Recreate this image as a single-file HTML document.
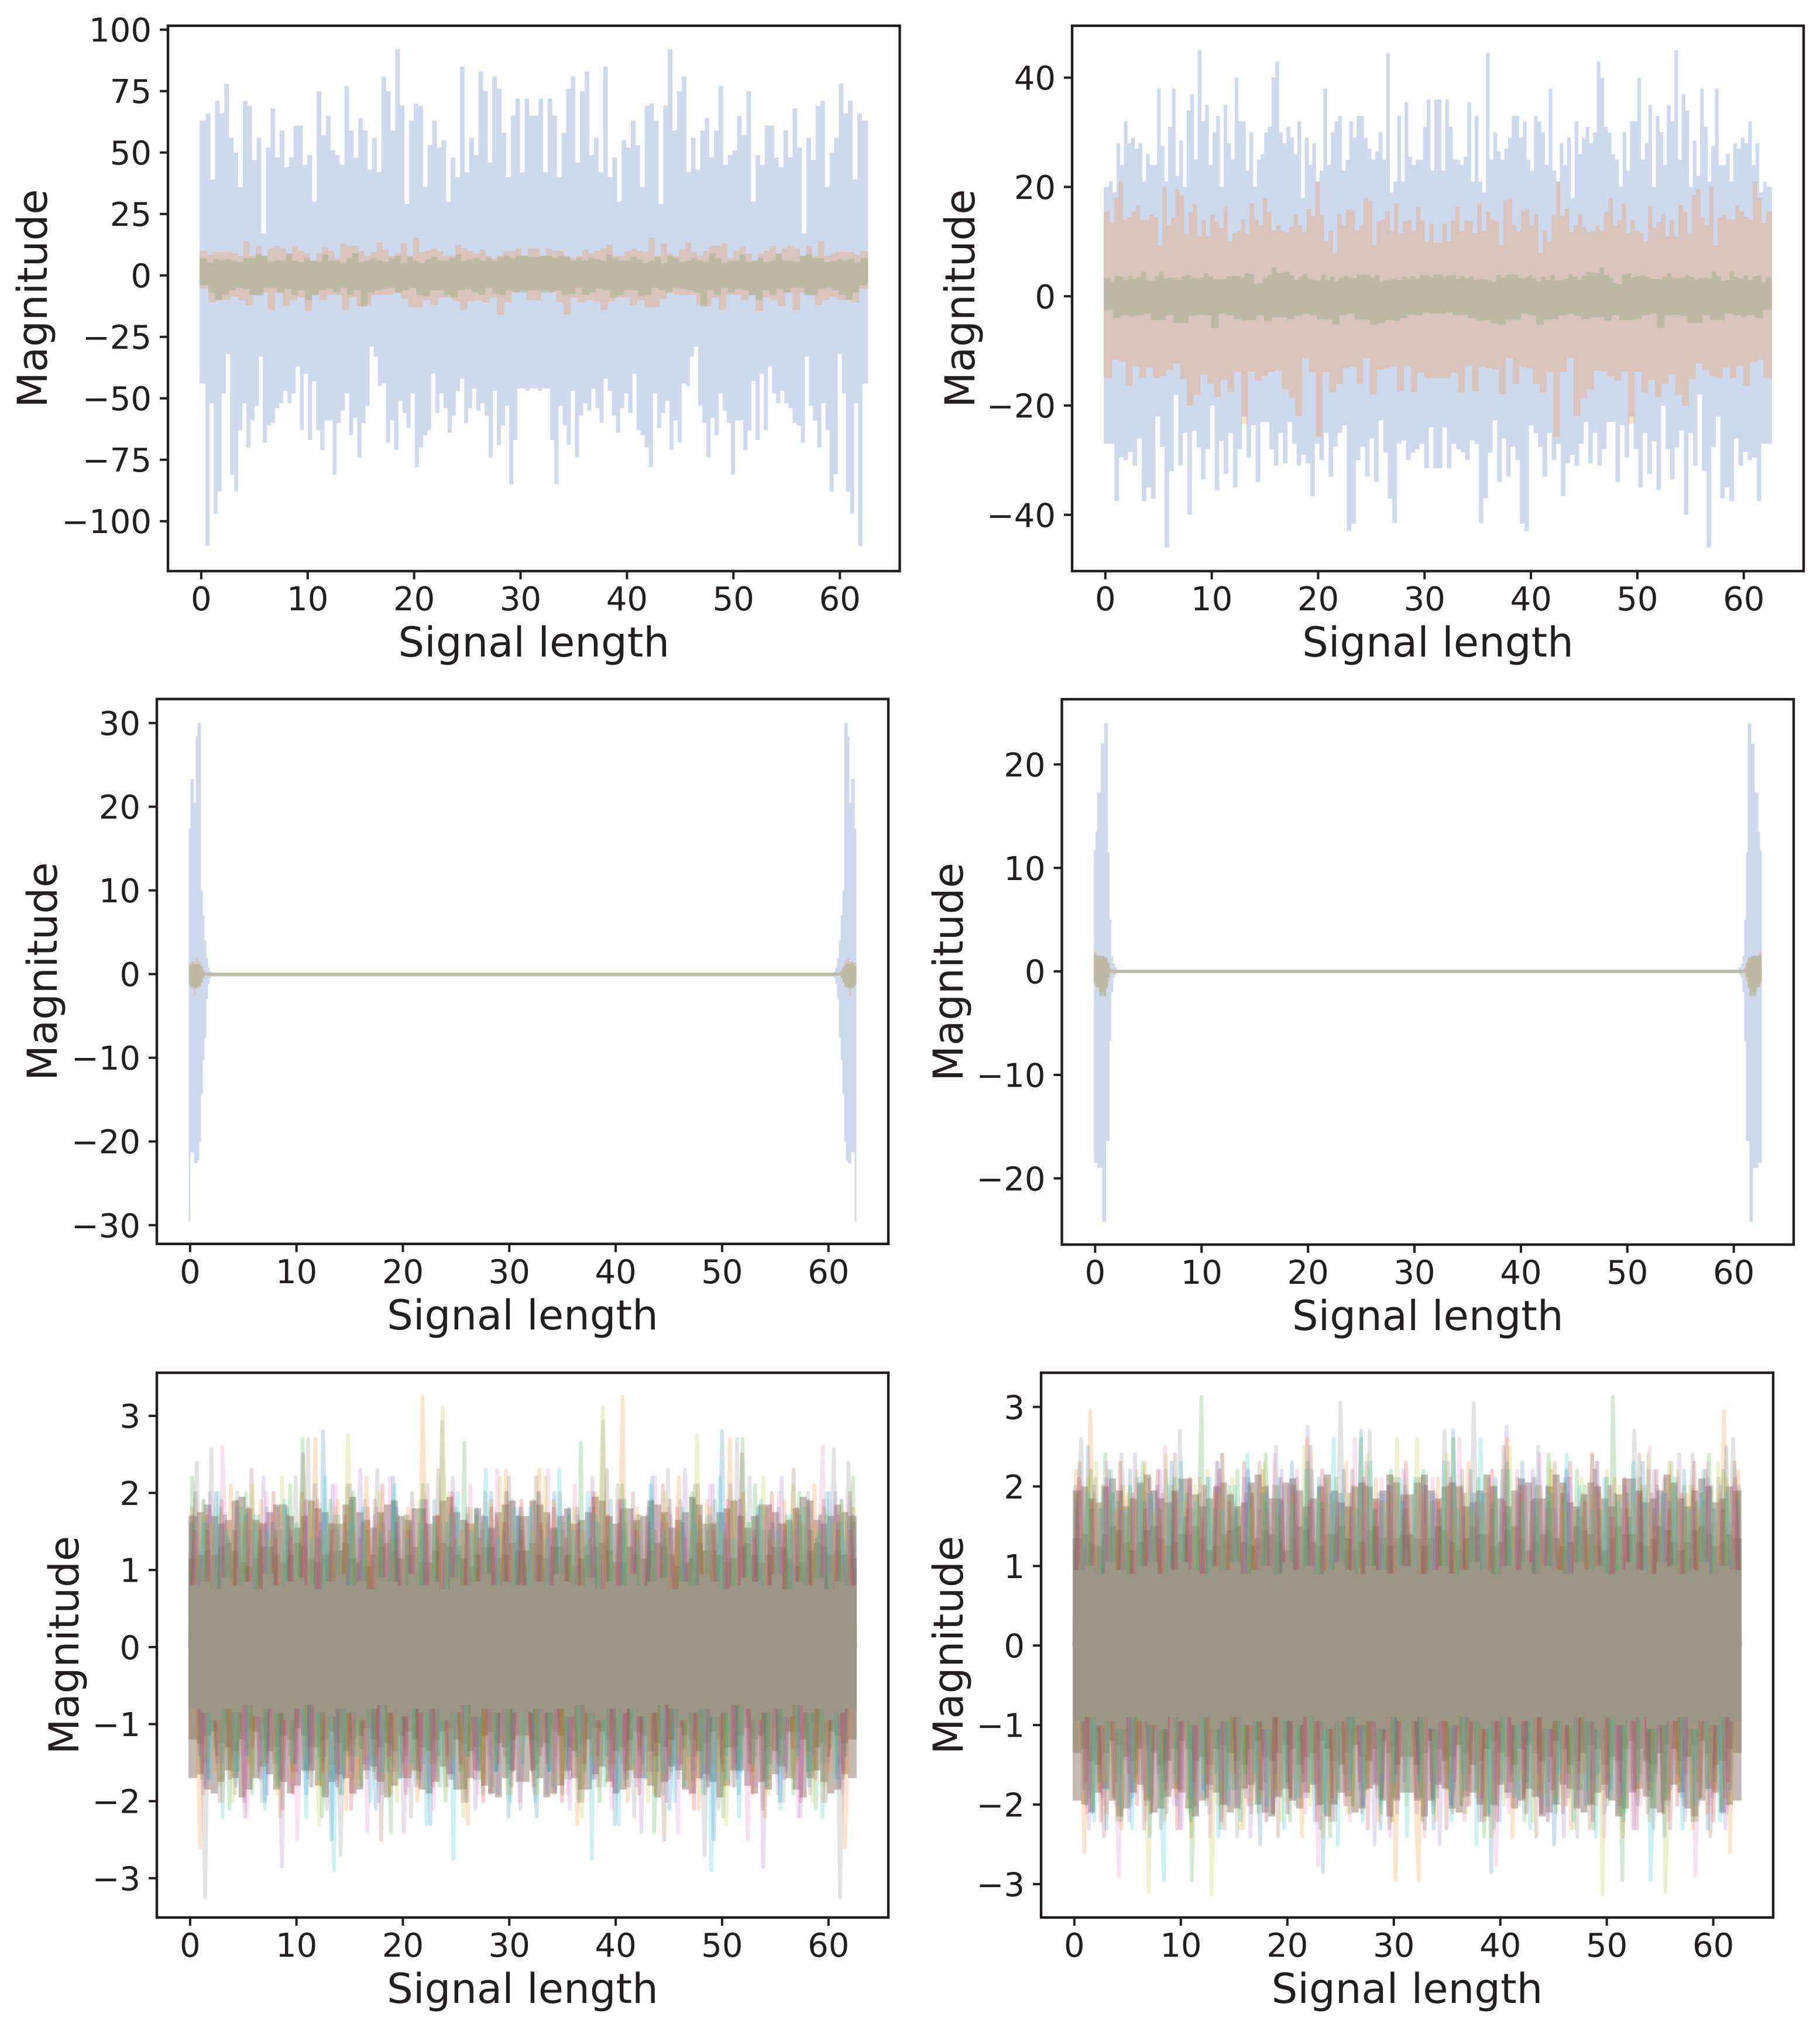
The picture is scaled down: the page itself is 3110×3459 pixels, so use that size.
<!DOCTYPE html>
<html lang="en">
<head>
<meta charset="utf-8">
<title>Signal magnitude panels</title>
<style>
  html, body { margin: 0; padding: 0; background: #ffffff; }
  #figure { display: block; width: 3110px; height: 3459px; }
  text { font-family: "DejaVu Sans", "Liberation Sans", sans-serif; fill: #231f20; }
</style>
</head>
<body>
<svg id="figure" xmlns="http://www.w3.org/2000/svg" width="3110" height="3459" viewBox="0 0 3110 3459"></svg>
<script>
/* ---------- tick labels ---------- */
const xTickValues = [0, 10, 20, 30, 40, 50, 60];
const p1YTicks = [100, 75, 50, 25, 0, -25, -50, -75, -100];
const p2YTicks = [40, 20, 0, -20, -40];
const p3YTicks = [30, 20, 10, 0, -10, -20, -30];
const p4YTicks = [20, 10, 0, -10, -20];
const p5YTicks = [3, 2, 1, 0, -1, -2, -3];
const p6YTicks = [3, 2, 1, 0, -1, -2, -3];
const xLimits = [-3.125, 65.625];
const signalHalfLength = [31.25];
const burstSpacing = [0.165];
const sampleNudge = [0.3,-0.6,0.8,0.1,-0.9,0.5,-0.2,0.9,-0.7,0.2,0.6,-0.4,-1,0.7,0,-0.5,0.4];

/* ---------- panel 1: half of a mirrored signal ---------- */
const p1BlueTop = [63,66,39,71,66,78,56,50,36,71,69,47,56,17,52,68,48,59,44,48,61,61,45,49,30,75,57,65,51,49,45,77,59,48,64,59,43,56,42,81,75,59,92,69,29,63,70,69,36,53,63,52,55,30,48,40,85,42,56,49,83,75,46,81,76,58,40,65,72,42,72,65];
const p1BlueBot = [-44,-110,-52,-97,-88,-48,-32,-81,-88,-63,-52,-70,-59,-53,-33,-68,-61,-60,-54,-52,-47,-52,-48,-37,-63,-40,-67,-43,-63,-71,-59,-59,-81,-60,-55,-48,-65,-58,-74,-60,-53,-29,-33,-45,-44,-68,-59,-71,-51,-56,-62,-48,-78,-70,-65,-63,-40,-56,-48,-54,-64,-57,-47,-42,-60,-54,-46,-55,-52,-57,-74,-47,-69,-61,-53,-85,-67,-46,-46,-47,-46];
const p1OrangeTop = [10,8.5,9.5,9.5,9.7,9,8,14,8,12,8,11,12,11,9,12,10,9,6,9,11.5,10,7,13,12,12,10,8,9.5,13.5,10.6,8,9,13,8,15.4,9.5,10,11,10,8,8,12.6,11,10,9,10.5,8,7,8,10,10,11,8,11];
const p1OrangeBot = [-5.4,-11,-10,-10,-8.6,-10,-12,-8,-7,-14,-7,-12.5,-10,-9,-14.5,-8,-10,-8,-8,-14,-9,-12.5,-12,-8,-8,-8,-7,-9.5,-13,-13,-10,-12,-9,-9,-10.5,-14,-10.5,-10,-11,-9,-16,-11,-6.6,-6,-10];
const p1GreenTop = [7,5.3,6.7,6,6.7,6,5.5,7,7,8.7,8,5.5,6,6,8.9,6,5.5,7,6,5.5,8.5,6,6,5,7,9,5.5,6,7,6,5.5,7,8,5,7.5,6,5,6.5,7.5,6,6,7,8.5,6,6.5,7,6,7,6,7.5,8,7,8,8,7.5];
const p1GreenBot = [-4,-7,-10,-8,-6,-5,-5.5,-8,-8,-5,-5,-7,-5.5,-8,-6,-10,-8,-6,-5.5,-7,-5,-8,-6,-12.5,-7,-6,-5.5,-5,-7,-6,-5,-8,-8.5,-6,-6,-8,-9,-6,-5.5,-7,-8,-5,-7.5,-8,-6,-7,-7,-6];

/* ---------- panel 2: half of a mirrored signal ---------- */
const p2BlueTop = [20,21,19,28,24,32,28,29,27,28,21,26,24,24,38,27.5,21,31,38,22,28.5,20,34,37,25,45,32,35,24,30,33,20,35,28,25,40,32,32,23,30,20,25,26,30,31,40,43,30,28,31,29,26,32,18,29,24,28,21,23,38,24,30,32,33,23,25,32,29,33,33,29,27,25,26.5,30,25,44.5,19,21,33,21,35.5,25.5,24,25,25,31,36,23,36];
const p2BlueBot = [-27,-27,-37.5,-29.5,-30,-28.5,-31,-26,-37.5,-35,-37,-22,-27.6,-46,-32,-18,-31,-25,-40,-24.6,-27.7,-33.5,-28,-20,-35.5,-26.5,-32.5,-25,-35,-28,-22,-29.5,-23.6,-34,-23,-23,-28,-31,-25,-30.6,-23,-27,-31,-29,-30.6,-36.6,-27,-30,-25,-33,-27.5,-25,-23.6,-43,-41.6,-30,-27.5,-33,-26,-34,-22.7,-28.6,-37,-41.5,-27,-26.4,-30,-28.6,-28,-27,-31.5,-24,-31.5];
const p2OrangeTop = [15.5,13.4,18,21,14,14.5,15.5,16.6,14,14,15,14.5,9.3,20,13,14.4,19.6,18.5,11.4,15.4,16.8,11,14,11,15,13.6,12.5,16.5,10,11.6,12,14,11.5,17,14,13,18,15.4,12,13,12,11.7,12.7,15,13,11.7,16,14.7,21,14.8,10,12,8,15,13,16,15.6,12,13,18,17.5,9.4,13.7,14,15.5,12,17,11.5,13.7,14,12,16.4,13.9,10,13.3,9.8];
const p2OrangeBot = [-15,-11.6,-12,-16.4,-12.8,-14.9,-13,-15,-14.6,-13.5,-12.3,-15.2,-20,-18,-14.3,-16,-18.4,-15.3,-17.6,-13.8,-23.4,-13.8,-15.4,-14.6,-13.8,-13.6,-17,-18.6,-21.9,-11.3,-13.9,-25.7,-13.9,-17.6,-16,-13.2,-12.9,-16,-11.3,-17.9,-13.4,-13.2,-12.9,-17.4,-12.7,-17.6,-14,-15,-15];
const p2GreenTop = [3.4,2.6,3.8,3.6,3,3.8,3.2,3.5,4.5,3,2.8,3.7,4.5,3.2,3.4,3.4,3,3.6,3.9,3.4,3.3,3.4,4.2,3.6,3.1,3.2,3.2,3.6,3.8,3.7,3.4,4.2,4,2.3,2.4,3.3,3.9,5.3,4.2,4.3,4.5,3.8,3,3.6,4.1,3.2,3,2.9,3.9,3,3.6,2.7,3.3,3.8,3.4,3.3,3.9,4,3.9,3.4,4,2.6,2.9,3.1,3.1,3,3.6,3.2,3.7,3.2,3.9,3.9,3.5,4];
const p2GreenBot = [-2.5,-4,-3.5,-3.8,-3.5,-3.2,-4.4,-4.4,-3.5,-4.9,-4.9,-3.6,-3.4,-3.5,-5.8,-3.2,-3.5,-4.2,-4.4,-4.4,-3.5,-4.5,-3.8,-3.8,-4.2,-3.6,-3.3,-3.5,-4.2,-4.3,-5.2,-3.5,-3.2,-4.3,-4.3,-5.2,-5,-4.4,-4.5,-4,-3.4,-3.5,-3,-3.2];

/* ---------- panel 3: burst then quiet tail ---------- */
const p3BlueTop = [17.4,23.3,23.3,20.5,28.4,30,30,10,7,4,1.9,0.8,0.3,0.15];
const p3BlueBot = [-29.5,-21.3,-21.3,-22.6,-22.6,-22.3,-20,-14.3,-10.3,-7.6,-3,-1.2,-0.5,-0.3];
const p3OrangeTop = [1.4,1.4,1.4,1.5,1.9,1.7,1.5,1,0.5,0.2,0.1];
const p3OrangeBot = [-1,-1.5,-1.5,-2.6,-1.6,-1.5,-1.5,-1,-0.5,-0.2,-0.1];
const p3GreenTop = [1,1.2,1.5,1.2,1.2,1.2,1,0.8,0.4,0.2];
const p3GreenBot = [-1.4,-1.7,-1.7,-1.7,-1.7,-1.6,-1.5,-1,-0.4,-0.1];
const p3TailTop = [0.12, 0.18, 0.18];
const p3TailBot = [-0.3, -0.2, -0.2];

/* ---------- panel 4: burst then quiet tail ---------- */
const p4BlueTop = [11.7,13.5,17.3,17.3,22,22,24,24,11.5,5,1.5,0.8,0.4,0.2];
const p4BlueBot = [-18.5,-18.5,-19,-19,-19,-24.2,-24.2,-16.4,-16.4,-6.7,-2,-0.6,-0.3,-0.1];
const p4OrangeTop = [1.9,1.8,1.5,1.6,1.5,1.4,1.3,1.2,0.9,0.4,0.2,0.1];
const p4OrangeBot = [-1.3,-1.5,-1.6,-2,-2.4,-2,-2.5,-1.7,-1,-0.3,-0.1];
const p4GreenTop = [1.6,1.6,1.5,1.5,1.5,1.5,1.4,1.4,0.8,0.2];
const p4GreenBot = [-1,-1.5,-1.6,-2.4,-2.4,-2.4,-2.4,-1.5,-0.6,-0.1];
const p4TailTop = [0.16, 0.16, 0.16];
const p4TailBot = [-0.16, -0.16, -0.16];

/* ---------- panel 5: ten overlaid mirrored signals ---------- */
const p5S0 = [1.6,-1.4,1.9,-1.7,2.0,-1.5,1.4,-1.8,1.7,-1.3,1.5,-2.0,1.6,-1.5,1.8,-1.6,1.3,-1.9,2.1,-1.4,2.8,-2.5,1.5,-1.7,1.9,-1.3,1.6,-2.1,1.4,-1.6,2.2,-1.5,1.7,-1.8,1.5,-2.3,1.9,-1.4,1.6,-1.7,1.3,-2.0,1.8,-1.5,2.0,-1.6,1.5,-2.2,1.7,-1.4];
const p5S1 = [1.8,-2.6,1.5,-1.6,1.7,-2.0,2.1,-1.4,1.6,-1.7,1.9,-1.5,1.4,-2.2,1.7,-1.6,2.0,-1.3,2.7,-1.8,1.6,-1.5,1.9,-2.1,1.5,-1.7,2.2,-1.4,1.6,-1.9,1.4,-1.6,1.8,-2.0,3.25,-1.5,1.7,-1.8,2.0,-1.4,1.5,-2.3,1.6,-1.7,1.9,-1.3,2.3,-1.9,1.4,-2.0];
const p5S2 = [2.2,-1.7,1.6,-1.3,1.8,-2.1,1.5,-1.6,2.0,-1.9,1.7,-1.4,1.5,-1.8,2.1,-1.5,2.7,-1.6,1.4,-2.2,1.9,-1.7,1.6,-1.4,2.0,-1.8,1.5,-1.6,1.7,-2.4,1.9,-1.3,1.6,-1.7,2.1,-1.5,1.4,-2.0,1.8,-1.6,2.65,-1.4,1.7,-1.9,1.5,-1.6,2.0,-1.5,1.8,-2.3];
const p5S3 = [1.5,-1.6,1.7,-1.4,1.9,-1.7,1.5,-2.0,1.8,-1.3,1.6,-1.5,2.0,-1.7,1.4,-1.9,1.7,-1.5,1.9,-1.6,1.5,-1.8,1.7,-2.1,1.4,-1.5,1.8,-1.7,2.1,-1.4,1.6,-1.9,1.5,-1.6,1.9,-1.8,1.7,-1.4,2.0,-1.5,1.6,-1.7,1.4,-2.0,1.8,-1.5,1.6,-1.8,1.9,-1.4];
const p5S4 = [1.7,-1.8,2.0,-1.5,1.6,-1.4,1.8,-2.2,1.5,-1.6,2.2,-1.9,1.4,-2.85,1.7,-1.5,1.9,-1.7,1.6,-1.4,2.1,-1.8,1.5,-1.6,2.3,-1.5,1.7,-2.0,1.6,-1.4,1.8,-2.4,1.5,-1.7,1.9,-1.6,1.4,-1.8,2.2,-1.5,1.7,-2.1,1.6,-1.4,1.5,-1.9,2.0,-1.6,1.8,-1.7];
const p5S5 = [2.0,-1.5,1.5,-2.0,1.7,-1.6,1.9,-1.4,2.3,-1.7,1.6,-1.5,1.8,-2.1,1.5,-1.6,2.5,-1.8,1.4,-1.5,1.7,-1.9,2.1,-1.4,1.6,-1.7,1.9,-2.5,1.5,-1.6,1.7,-1.4,2.0,-1.8,1.6,-1.5,2.3,-1.7,1.4,-2.0,1.8,-1.6,1.5,-1.9,1.7,-1.4,2.2,-1.6,1.5,-2.1];
const p5S6 = [1.4,-1.9,1.8,-1.6,2.6,-1.5,1.6,-2.2,1.4,-1.7,2.0,-1.4,1.7,-1.8,1.5,-2.5,1.9,-1.6,1.5,-1.3,2.1,-1.7,1.4,-1.9,1.6,-2.4,1.8,-1.5,2.2,-1.6,1.5,-1.8,1.7,-1.4,1.9,-2.1,1.6,-1.7,1.4,-1.5,2.1,-1.9,1.7,-1.6,2.3,-1.4,1.6,-2.0,1.5,-1.7];
const p5S7 = [2.4,-3.25,2.57,-1.4,1.7,-1.9,2.0,-1.5,1.6,-2.0,1.8,-1.7,1.5,-1.4,2.2,-1.6,2.7,-1.8,1.5,-2.1,1.6,-2.7,2.1,-1.7,1.9,-1.5,2.3,-1.9,1.4,-1.6,1.7,-2.2,1.6,-1.5,2.1,-1.7,2.93,-1.4,1.8,-2.0,1.5,-1.6,2.0,-1.8,1.6,-1.5,1.9,-2.1,1.4,-1.7];
const p5S8 = [1.9,-1.4,1.6,-1.8,1.5,-2.0,1.8,-1.5,2.1,-1.6,1.4,-1.9,2.2,-1.7,1.6,-1.4,1.9,-2.3,1.5,-1.6,1.8,-1.5,2.75,-1.8,1.6,-1.4,2.0,-1.7,1.5,-2.0,1.7,-1.6,1.9,-1.4,1.6,-1.8,3.1,-1.5,1.4,-2.2,1.8,-1.7,1.6,-1.5,2.2,-1.9,1.5,-1.4,1.9,-1.6];
const p5S9 = [1.6,-1.7,2.0,-2.2,1.5,-1.6,1.8,-1.4,1.7,-2.1,1.5,-1.8,1.9,-1.5,1.6,-2.2,1.4,-1.7,2.2,-2.9,1.7,-1.9,1.6,-1.4,1.8,-2.0,1.5,-1.6,2.1,-1.7,1.4,-1.5,1.9,-2.3,1.6,-1.8,1.7,-2.75,2.0,-1.4,1.5,-1.7,2.3,-1.6,1.4,-2.0,1.8,-1.5,2.1,-1.8];
const p5CoreTop = [0.8,0.85,0.75,0.9,0.8,0.85,0.75,0.95,0.8,0.85,0.9,0.8,0.75,0.85,0.95,0.8,0.85,0.75,0.9,0.85,0.8,0.95,0.8,0.85,0.75,0.9,0.8,0.85,0.95,0.8,0.85,0.8];
const p5CoreBot = [-0.8,-0.85,-0.95,-0.8,-0.85,-0.75,-0.9,-0.8,-0.85,-0.95,-0.8,-0.75,-0.85,-0.9,-0.8,-0.85,-0.95,-0.8,-0.75,-0.85,-0.9,-0.8,-0.85,-0.8,-0.95,-0.85,-0.75,-0.9,-0.8,-0.85,-0.8,-0.85];
const p5DeepTop = [1.15,1.2,1.25,1.2,1.3,1.35,1.25,1.1,1.05,1.15,1.3,1.3,1.2,1.1,1.2,1.35,1.3,1.15,1.1,1.2,1.25,1.25,1.35,1.15,1.1,1.05,1.2,1.3,1.35,1.25,1.15,1.2,1.3,1.1,1.1,1.25,1.35,1.3,1.2,1.15,1.05,1.2,1.3,1.3,1.15,1.2,1.35,1.25];
const p5DeepBot = [-1.2,-1.25,-1.15,-1.1,-1.25,-1.3,-1.35,-1.2,-1.1,-1.1,-1.2,-1.35,-1.3,-1.15,-1.2,-1.05,-1.15,-1.3,-1.3,-1.2,-1.1,-1.25,-1.35,-1.2,-1.15,-1.05,-1.2,-1.3,-1.25,-1.35,-1.15,-1.1,-1.2,-1.3,-1.35,-1.2,-1.1,-1.05,-1.2,-1.25,-1.35,-1.3,-1.15,-1.1,-1.25,-1.3,-1.2,-1.15];
const p5MidTop = [1.7,1.75,1.85,1.7,1.6,1.65,1.9,1.95,1.8,1.65,1.6,1.75,1.85,1.85,1.7,1.55,1.7,1.9,1.8,1.75,1.6,1.6,1.85,1.95,1.75,1.65,1.55,1.75,1.85,1.9,1.7,1.65,1.8,1.8,1.6,1.7,1.9,1.95,1.75,1.65,1.6,1.8,1.7,1.55,1.75,1.85,1.9,1.7];
const p5MidBot = [-1.7,-1.65,-1.85,-1.9,-1.75,-1.6,-1.7,-1.95,-1.85,-1.7,-1.55,-1.65,-1.85,-1.75,-1.9,-1.8,-1.6,-1.6,-1.8,-1.95,-1.75,-1.65,-1.7,-1.9,-1.85,-1.6,-1.55,-1.75,-1.95,-1.8,-1.7,-1.7,-1.6,-1.85,-1.9,-1.75,-1.55,-1.65,-1.85,-1.85,-1.7,-1.6,-1.8,-1.9,-1.95,-1.7,-1.6,-1.75];

/* ---------- panel 6: ten overlaid mirrored signals ---------- */
const p6S0 = [2.0,-1.8,2.5,-2.1,1.7,-2.3,1.9,-1.6,2.2,-1.9,1.8,-2.4,2.0,-1.7,2.3,-2.0,1.6,-2.2,1.9,-1.8,2.1,-1.6,2.4,-2.0,1.7,-1.9,2.2,-2.5,1.8,-2.1,2.0,-1.7,2.3,-1.9,1.6,-2.2,2.1,-2.85,1.9,-1.8,2.2,-1.6,2.7,-2.0,1.7,-2.3,2.0,-1.9,1.8,-2.1];
const p6S1 = [2.2,-2.6,2.95,-1.8,2.0,-2.1,1.7,-2.3,1.9,-1.7,2.3,-1.9,1.6,-2.2,2.0,-1.8,1.8,-2.4,2.1,-1.7,1.9,-2.0,2.4,-1.6,1.7,-2.3,2.0,-1.9,2.2,-1.8,1.6,-2.1,1.9,-2.4,2.6,-1.7,2.0,-2.2,1.8,-1.9,2.3,-2.0,1.7,-1.6,2.1,-2.2,1.9,-2.95,1.6,-2.0];
const p6S2 = [1.9,-2.0,2.2,-1.7,2.4,-1.9,1.8,-2.2,2.0,-1.6,2.3,-2.1,1.7,-1.9,2.1,-1.8,1.9,-2.95,3.13,-2.0,1.7,-2.3,2.0,-1.8,2.2,-1.6,1.9,-2.1,2.4,-1.9,1.6,-2.2,2.0,-1.7,2.3,-2.0,1.8,-2.4,2.1,-1.6,1.9,-2.0,2.6,-1.8,1.7,-2.1,2.2,-1.9,2.0,-2.3];
const p6S3 = [2.1,-1.7,1.8,-2.2,2.0,-1.9,2.3,-1.6,1.9,-2.0,1.7,-2.1,2.2,-1.8,1.9,-2.3,2.1,-1.7,1.6,-1.9,2.0,-2.2,1.8,-1.6,2.3,-2.0,1.9,-1.8,1.7,-2.1,2.1,-1.9,2.0,-1.7,1.8,-2.2,2.2,-1.9,1.6,-2.0,1.9,-1.7,2.1,-2.3,1.8,-1.9,2.0,-1.6,2.3,-2.1];
const p6S4 = [1.8,-2.3,2.0,-1.6,2.1,-2.0,1.7,-2.2,2.4,-1.8,1.9,-2.0,2.2,-1.7,1.8,-2.3,2.0,-1.9,1.6,-2.1,2.3,-1.7,1.9,-2.0,2.1,-2.4,1.7,-1.8,2.0,-1.6,2.2,-2.1,1.9,-1.9,2.75,-1.7,2.1,-2.2,1.8,-2.0,1.6,-1.8,2.3,-2.5,1.9,-1.7,2.0,-2.1,2.2,-1.9];
const p6S5 = [2.3,-1.9,1.7,-2.4,2.2,-1.7,2.0,-2.0,1.8,-2.3,2.1,-1.6,1.9,-2.1,2.4,-1.8,1.7,-2.0,2.0,-1.9,2.2,-2.3,1.6,-1.8,1.9,-2.1,2.3,-1.7,2.0,-2.4,1.8,-1.9,2.1,-1.6,2.5,-2.0,1.7,-2.2,1.9,-1.8,2.2,-2.1,2.0,-1.7,1.8,-2.3,2.1,-1.9,1.7,-2.0];
const p6S6 = [2.0,-2.1,1.9,-2.0,2.3,-2.9,1.7,-1.8,2.1,-2.2,1.8,-1.7,2.5,-2.0,1.9,-2.3,1.6,-1.9,2.0,-2.4,2.2,-1.7,1.8,-2.0,2.1,-1.8,1.7,-2.2,2.4,-1.9,2.0,-1.6,2.2,-2.1,1.8,-2.75,2.0,-1.7,1.9,-2.2,2.6,-2.0,1.7,-1.8,2.1,-2.4,1.9,-1.7,2.3,-2.0];
const p6S7 = [2.6,-1.8,2.1,-1.9,1.8,-2.2,2.4,-1.7,2.0,-2.0,1.9,-2.3,2.2,-1.6,2.7,-1.9,1.7,-2.1,2.0,-1.8,2.3,-2.0,1.6,-2.4,2.1,-1.7,1.9,-2.2,2.5,-1.8,2.0,-2.0,1.7,-1.9,2.2,-2.3,1.9,-1.6,3.05,-2.1,2.0,-1.8,2.7,-1.9,1.8,-2.2,2.1,-1.7,1.9,-2.4];
const p6S8 = [2.1,-2.0,2.3,-1.7,1.9,-2.2,2.0,-1.8,2.2,-3.1,1.7,-2.0,2.4,-1.9,1.8,-2.1,2.0,-1.6,2.2,-3.13,1.9,-1.8,2.1,-2.3,1.7,-2.0,2.3,-1.9,2.0,-2.2,1.8,-1.7,2.5,-2.0,1.9,-2.4,2.1,-1.8,1.7,-2.1,2.0,-1.9,2.4,-1.6,1.8,-2.2,2.6,-2.0,1.9,-1.8];
const p6S9 = [1.9,-2.2,2.0,-1.8,2.2,-2.0,1.7,-2.3,2.1,-1.9,1.9,-2.95,2.0,-1.7,2.3,-2.1,1.8,-1.9,2.1,-2.4,1.7,-1.8,2.0,-2.2,2.4,-1.6,1.9,-2.0,2.1,-2.3,1.8,-1.9,2.2,-1.7,2.0,-2.1,2.6,-2.5,1.9,-1.8,1.7,-2.2,2.3,-2.0,1.9,-1.7,2.1,-2.4,2.0,-1.9];
const p6CoreTop = [0.95,1.0,0.9,1.05,0.95,0.9,1.0,1.05,0.9,0.95,1.05,0.95,0.9,1.0,0.95,1.05,0.9,0.95,1.0,0.9,1.05,0.95,1.0,0.9,0.95,1.05,0.95,0.9,1.0,0.95,0.9,1.0];
const p6CoreBot = [-0.95,-0.9,-1.0,-0.95,-1.05,-0.9,-0.95,-1.0,-1.05,-0.9,-0.95,-1.0,-0.9,-1.05,-0.95,-0.9,-1.0,-0.95,-1.05,-0.9,-0.95,-1.0,-0.9,-0.95,-1.05,-0.95,-0.9,-1.0,-0.95,-1.05,-0.9,-0.95];
const p6DeepTop = [1.35,1.4,1.3,1.25,1.4,1.5,1.45,1.3,1.2,1.3,1.45,1.5,1.35,1.25,1.3,1.4,1.4,1.5,1.35,1.2,1.25,1.4,1.45,1.5,1.3,1.25,1.35,1.45,1.4,1.3,1.2,1.35,1.5,1.45,1.3,1.25,1.4,1.4,1.5,1.35,1.2,1.3,1.45,1.5,1.35,1.25,1.35,1.4];
const p6DeepBot = [-1.35,-1.3,-1.45,-1.5,-1.35,-1.2,-1.25,-1.4,-1.45,-1.3,-1.25,-1.35,-1.5,-1.45,-1.3,-1.2,-1.3,-1.45,-1.4,-1.5,-1.3,-1.25,-1.35,-1.45,-1.5,-1.3,-1.2,-1.4,-1.45,-1.35,-1.25,-1.3,-1.5,-1.4,-1.35,-1.2,-1.3,-1.45,-1.5,-1.35,-1.25,-1.4,-1.45,-1.3,-1.2,-1.35,-1.5,-1.4];
const p6MidTop = [1.95,2.0,1.85,1.8,2.0,2.1,1.95,1.75,1.85,2.05,2.15,1.95,1.85,1.8,1.95,2.1,2.1,1.9,1.75,1.85,2.0,2.05,1.9,1.75,1.8,2.05,2.15,2.0,1.85,1.85,2.05,2.1,1.95,1.75,1.85,2.0,2.15,1.95,1.8,1.75,2.0,2.05,2.0,1.85,1.95,2.15,2.05,1.9];
const p6MidBot = [-1.95,-2.0,-2.1,-1.85,-1.8,-1.95,-2.15,-2.05,-1.85,-1.75,-1.95,-2.1,-2.05,-1.9,-1.8,-1.85,-2.05,-2.15,-1.95,-1.75,-1.85,-2.0,-2.1,-2.05,-1.8,-1.75,-2.0,-2.1,-2.15,-1.9,-1.8,-1.95,-2.05,-1.85,-1.75,-2.0,-2.15,-2.0,-1.85,-1.9,-2.1,-2.05,-1.8,-1.75,-1.95,-2.15,-1.95,-1.85];

/* ---------- styling ---------- */
const INK = '#231f20';
const SVGNS = 'http://www.w3.org/2000/svg';
const TRIO = ['rgb(76,114,190)', 'rgb(243,150,80)', 'rgb(121,163,100)'];
const TRIO_NAMES = ['blue', 'orange', 'green'];
const TRIO_ALPHA = [0.27, 0.3, 0.3];
const TAB10 = ['#1f77b4','#ff7f0e','#2ca02c','#d62728','#9467bd','#8c564b','#e377c2','#7f7f7f','#bcbd22','#17becf'];

const root = document.getElementById('figure');

function make(tag, parent, props) {
  const el = document.createElementNS(SVGNS, tag);
  for (const k in props) el.setAttribute(k, props[k]);
  parent.appendChild(el);
  return el;
}

function fmt(v) { return v < 0 ? '\u2212' + Math.abs(v) : String(v); }

function linear(d0, d1, r0, r1) {
  return function (v) { return r0 + (v - d0) / (d1 - d0) * (r1 - r0); };
}

function toPath(points, xs, ys) {
  return points.map(function (p, i) {
    return (i ? 'L' : 'M') + xs(p[0]).toFixed(1) + ' ' + ys(p[1]).toFixed(1);
  }).join('');
}

function mirrorPoints(points) {
  const half = signalHalfLength[0];
  const back = points.slice().reverse().map(function (p) { return [2 * half - p[0], p[1]]; });
  return points.concat(back);
}

/* silhouette of a half signal: one flat step per value, spread evenly from start to centre */
function steps(values) {
  const half = signalHalfLength[0];
  const pts = [];
  values.forEach(function (v, i) {
    const x0 = i === 0 ? -0.15 : i / values.length * half;
    pts.push([x0, v]);
    pts.push([(i + 1) / values.length * half, v]);
  });
  return mirrorPoints(pts);
}

/* silhouette of an early burst, followed by a quiet level to the centre */
function burstSteps(values, tail) {
  const half = signalHalfLength[0];
  const dx = burstSpacing[0];
  const pts = [];
  values.forEach(function (v, i) {
    pts.push([i * dx - 0.13, v]);
    pts.push([(i + 1) * dx - 0.13, v]);
  });
  pts.push([values.length * dx - 0.13, tail]);
  pts.push([half, tail]);
  return mirrorPoints(pts);
}

function envelope(topPts, botPts) {
  return topPts.concat(botPts.slice().reverse());
}

/* signed alternating values; each series starts a fraction of a period later,
   and samples are nudged off the regular grid so the overlaid colours do not form stripes */
function alternating(values, seriesIndex) {
  const half = signalHalfLength[0];
  const stepX = half / (values.length - 1);
  const start = seriesIndex * 0.2 * stepX;
  const pts = values
    .map(function (v, k) {
      const nudge = sampleNudge[(k * 7 + seriesIndex * 3) % sampleNudge.length];
      return [Math.max(0, start + (k + nudge * 0.45) * stepX), v];
    })
    .filter(function (p) { return p[0] <= half; });
  const back = pts.slice(0, -1).reverse().map(function (p) { return [2 * half - p[0], p[1]]; });
  return [[0, 0]].concat(pts, back, [[2 * half, 0]]);
}

function drawFrame(g, cfg, xs, ys) {
  const L = cfg.left, R = cfg.right, T = cfg.top, B = cfg.bottom;

  xTickValues.forEach(function (v) {
    const x = xs(v);
    const tick = make('line', g, { x1: x, x2: x, y1: B, y2: B + 14, stroke: INK, 'stroke-width': 4 });
    
    
    const label = make('text', g, { x: x, y: B + 67, 'text-anchor': 'middle', 'font-size': 56 });
    
    
    label.textContent = fmt(v);
  });

  cfg.yTicks.forEach(function (v) {
    const y = ys(v);
    const tick = make('line', g, { x1: L - 14, x2: L, y1: y, y2: y, stroke: INK, 'stroke-width': 4 });
    
    
    const label = make('text', g, { x: L - 28, y: y + 20.5, 'text-anchor': 'end', 'font-size': 56 });
    
    
    label.textContent = fmt(v);
  });

  const frame = make('rect', g, { x: L, y: T, width: R - L, height: B - T, fill: 'none', stroke: INK, 'stroke-width': 4.4 });
  
  

  const xTitle = make('text', g, { x: (L + R) / 2, y: B + 146, 'text-anchor': 'middle', 'font-size': 70.5 });
  
  
  xTitle.textContent = 'Signal length';

  const yTitle = make('text', g, {
    x: 0, y: 0, 'text-anchor': 'middle', 'font-size': 70.5,
    transform: 'translate(' + cfg.yTitleX + ' ' + (T + B) / 2 + ') rotate(-90)'
  });
  
  
  yTitle.textContent = 'Magnitude';
}

function drawTrioPanel(cfg) {
  const g = make('g', root, {});
  
  
  const xs = linear(xLimits[0], xLimits[1], cfg.left, cfg.right);
  const ys = linear(cfg.yLimits[0], cfg.yLimits[1], cfg.bottom, cfg.top);
  cfg.series.forEach(function (pts, i) {
    const p = make('path', g, { d: toPath(pts, xs, ys) + 'Z', fill: TRIO[i], 'fill-opacity': TRIO_ALPHA[i], stroke: 'none' });
    
    
  });
  drawFrame(g, cfg, xs, ys);
}

function drawBand(g, xs, ys, tops, bots, color, opacity, name) {
  const band = make('path', g, { d: toPath(envelope(steps(tops), steps(bots)), xs, ys) + 'Z', fill: color, 'fill-opacity': opacity, stroke: 'none' });
  
  
}

function drawManyPanel(cfg) {
  const g = make('g', root, {});
  
  
  const xs = linear(xLimits[0], xLimits[1], cfg.left, cfg.right);
  const ys = linear(cfg.yLimits[0], cfg.yLimits[1], cfg.bottom, cfg.top);
  drawBand(g, xs, ys, cfg.midTop, cfg.midBot, '#b8a9a2', 0.8, 'overlap-fringe-band');
  drawBand(g, xs, ys, cfg.deepTop, cfg.deepBot, '#a3927f', 0.85, 'dense-overlap-band');
  cfg.series.forEach(function (values, i) {
    const p = make('path', g, {
      d: toPath(alternating(values, i), xs, ys), fill: 'none', stroke: TAB10[i], 'stroke-opacity': 0.22,
      'stroke-width': 6.4, 'stroke-linejoin': 'round', 'stroke-linecap': 'round'
    });
    
    
  });
  drawBand(g, xs, ys, cfg.coreTop, cfg.coreBot, '#9c9684', 1, 'saturated-overlap-band');
  drawFrame(g, cfg, xs, ys);
}

drawTrioPanel({
  name: 'panel-top-left', left: 287, right: 1537.5, top: 44, bottom: 976, yTitleX: 80,
  yLimits: [-120.3, 101.6], yTicks: p1YTicks,
  series: [
    envelope(steps(p1BlueTop), steps(p1BlueBot)),
    envelope(steps(p1OrangeTop), steps(p1OrangeBot)),
    envelope(steps(p1GreenTop), steps(p1GreenBot))
  ]
});
drawTrioPanel({
  name: 'panel-top-right', left: 1832, right: 3082, top: 44, bottom: 976, yTitleX: 1665,
  yLimits: [-50.3, 49.5], yTicks: p2YTicks,
  series: [
    envelope(steps(p2BlueTop), steps(p2BlueBot)),
    envelope(steps(p2OrangeTop), steps(p2OrangeBot)),
    envelope(steps(p2GreenTop), steps(p2GreenBot))
  ]
});
drawTrioPanel({
  name: 'panel-middle-left', left: 268, right: 1518, top: 1194.6, bottom: 2125.8, yTitleX: 97,
  yLimits: [-32.24, 32.87], yTicks: p3YTicks,
  series: [
    envelope(burstSteps(p3BlueTop, p3TailTop[0]), burstSteps(p3BlueBot, p3TailBot[0])),
    envelope(burstSteps(p3OrangeTop, p3TailTop[1]), burstSteps(p3OrangeBot, p3TailBot[1])),
    envelope(burstSteps(p3GreenTop, p3TailTop[2]), burstSteps(p3GreenBot, p3TailBot[2]))
  ]
});
drawTrioPanel({
  name: 'panel-middle-right', left: 1814.5, right: 3065, top: 1195, bottom: 2127, yTitleX: 1645,
  yLimits: [-26.4, 26.3], yTicks: p4YTicks,
  series: [
    envelope(burstSteps(p4BlueTop, p4TailTop[0]), burstSteps(p4BlueBot, p4TailBot[0])),
    envelope(burstSteps(p4OrangeTop, p4TailTop[1]), burstSteps(p4OrangeBot, p4TailBot[1])),
    envelope(burstSteps(p4GreenTop, p4TailTop[2]), burstSteps(p4GreenBot, p4TailBot[2]))
  ]
});
drawManyPanel({
  name: 'panel-bottom-left', left: 268, right: 1518, top: 2346, bottom: 3277, yTitleX: 134,
  yLimits: [-3.51, 3.56], yTicks: p5YTicks,
  series: [p5S0, p5S1, p5S2, p5S3, p5S4, p5S5, p5S6, p5S7, p5S8, p5S9],
  coreTop: p5CoreTop, coreBot: p5CoreBot,
  deepTop: p5DeepTop, deepBot: p5DeepBot,
  midTop: p5MidTop, midBot: p5MidBot
});
drawManyPanel({
  name: 'panel-bottom-right', left: 1779, right: 3030, top: 2346, bottom: 3277, yTitleX: 1645,
  yLimits: [-3.42, 3.43], yTicks: p6YTicks,
  series: [p6S0, p6S1, p6S2, p6S3, p6S4, p6S5, p6S6, p6S7, p6S8, p6S9],
  coreTop: p6CoreTop, coreBot: p6CoreBot,
  deepTop: p6DeepTop, deepBot: p6DeepBot,
  midTop: p6MidTop, midBot: p6MidBot
});
</script>
</body>
</html>
